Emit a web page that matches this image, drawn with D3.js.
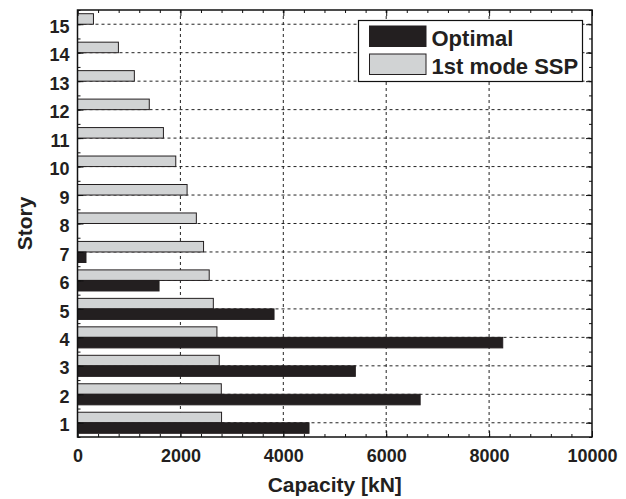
<!DOCTYPE html>
<html>
<head>
<meta charset="utf-8">
<script src="https://cdn.jsdelivr.net/npm/d3@7/dist/d3.min.js"></script>
<style>
  html, body { margin: 0; padding: 0; background: #fff; }
  svg { display: block; font-family: "Liberation Sans", Arial, Helvetica, sans-serif; font-weight: bold; }
</style>
</head>
<body>
<svg id="chart" width="626" height="499"></svg>
<script>
// Story numbers, bottom to top
const stories = [1, 2, 3, 4, 5, 6, 7, 8, 9, 10, 11, 12, 13, 14, 15];
// Story shear capacity [kN]
const optimal = [4500, 6660, 5400, 8265, 3820, 1585, 165, 0, 0, 0, 0, 0, 0, 0, 0];
const ssp1 = [2800, 2795, 2755, 2710, 2640, 2560, 2450, 2310, 2130, 1910, 1670, 1395, 1105, 795, 310];
const seriesNames = ["Optimal", "1st mode SSP"];
const xTicks = [0, 2000, 4000, 6000, 8000, 10000];
const xGridValues = [2000, 4000, 6000, 8000];

const margin = { left: 77.5, right: 34, top: 10, bottom: 62 };
const W = 626, H = 499;
const x0 = margin.left, x1 = W - margin.right, y0 = margin.top, y1 = H - margin.bottom;

const svg = d3.select("#chart");

const x = d3.scaleLinear().domain([0, 10000]).range([x0, x1]);
const y = d3.scaleLinear().domain([0.5, 15.5]).range([y1, y0]);
const step = y(1) - y(2);
const barH = step * 0.37;

const darkFill = "#231f20";
const greyFill = "#d1d3d4";

// dashed grid
const grid = svg.append("g").attr("stroke", "#222").attr("stroke-width", 1).attr("stroke-dasharray", "3,3");
grid.selectAll("line.h").data(stories).join("line")
  .attr("x1", x0).attr("x2", x1)
  .attr("y1", d => y(d)).attr("y2", d => y(d));
grid.selectAll("line.v").data(xGridValues).join("line")
  .attr("y1", y0).attr("y2", y1)
  .attr("x1", d => x(d)).attr("x2", d => x(d));

// bars: 1st mode SSP above the story line, Optimal below it
const rows = stories.map((s, i) => ({ s, opt: optimal[i], ssp: ssp1[i] }));
svg.append("g").selectAll("rect").data(rows.filter(d => d.ssp > 0)).join("rect")
  .attr("x", x(0)).attr("y", d => y(d.s) - barH)
  .attr("width", d => x(d.ssp) - x(0)).attr("height", barH)
  .attr("fill", greyFill).attr("stroke", darkFill).attr("stroke-width", 1);
svg.append("g").selectAll("rect").data(rows.filter(d => d.opt > 0)).join("rect")
  .attr("x", x(0)).attr("y", d => y(d.s))
  .attr("width", d => x(d.opt) - x(0)).attr("height", barH)
  .attr("fill", darkFill).attr("stroke", darkFill).attr("stroke-width", 1);

// axes with inward ticks
const minorX = d3.range(0, 10001, 400);
const minorY = d3.range(0.5, 15.6, 0.5);
function styleAxis(g) {
  g.select(".domain").remove();
  g.selectAll(".tick line").attr("stroke", "#111").attr("stroke-width", 1);
  g.selectAll(".tick text").attr("fill", "#231f20").style("font-size", "18px").style("font-weight", "bold")
    .style("font-family", "'Liberation Sans', Arial, sans-serif");
}
svg.append("g").attr("transform", `translate(0,${y1})`)
  .call(d3.axisBottom(x).tickValues(xTicks).tickFormat(d3.format("d")).tickSize(-6).tickPadding(12))
  .call(styleAxis);
svg.append("g").attr("transform", `translate(0,${y1})`)
  .call(d3.axisBottom(x).tickValues(minorX).tickFormat("").tickSize(-3)).call(styleAxis);
svg.append("g").attr("transform", `translate(0,${y0})`)
  .call(d3.axisTop(x).tickValues(xTicks).tickFormat("").tickSize(-6)).call(styleAxis);
svg.append("g").attr("transform", `translate(0,${y0})`)
  .call(d3.axisTop(x).tickValues(minorX).tickFormat("").tickSize(-3)).call(styleAxis);
svg.append("g").attr("transform", `translate(${x0},0)`)
  .call(d3.axisLeft(y).tickValues(stories).tickFormat(d3.format("d")).tickSize(-6).tickPadding(8))
  .call(styleAxis)
  .call(g => g.selectAll(".tick text").attr("dy", "0.45em"));
svg.append("g").attr("transform", `translate(${x0},0)`)
  .call(d3.axisLeft(y).tickValues(minorY).tickFormat("").tickSize(-3)).call(styleAxis);
svg.append("g").attr("transform", `translate(${x1},0)`)
  .call(d3.axisRight(y).tickValues(stories).tickFormat("").tickSize(-6)).call(styleAxis);
svg.append("g").attr("transform", `translate(${x1},0)`)
  .call(d3.axisRight(y).tickValues(minorY).tickFormat("").tickSize(-3)).call(styleAxis);

// frame
svg.append("rect").attr("x", x0).attr("y", y0).attr("width", x1 - x0).attr("height", y1 - y0)
  .attr("fill", "none").attr("stroke", "#111").attr("stroke-width", 1.5);

// axis titles
svg.append("text").attr("x", (x0 + x1) / 2).attr("y", 492).attr("text-anchor", "middle")
  .attr("fill", "#231f20").style("font-size", "21px").text("Capacity [kN]");
svg.append("text").attr("transform", `translate(32,${(y0 + y1) / 2}) rotate(-90)`).attr("text-anchor", "middle")
  .attr("fill", "#231f20").style("font-size", "21px").text("Story");

// legend
const lg = svg.append("g");
lg.append("rect").attr("x", 358.5).attr("y", 20.5).attr("width", 224).attr("height", 61)
  .attr("fill", "#fff").attr("stroke", "#111").attr("stroke-width", 1.2);
const legendItems = [
  { name: seriesNames[0], fill: darkFill, top: 26, base: 45.5 },
  { name: seriesNames[1], fill: greyFill, top: 54, base: 74 }
];
legendItems.forEach(it => {
  lg.append("rect").attr("x", 369.5).attr("y", it.top).attr("width", 56.5).attr("height", 20.5)
    .attr("fill", it.fill).attr("stroke", darkFill).attr("stroke-width", 1);
  lg.append("text").attr("x", 431.5).attr("y", it.base).attr("fill", "#231f20")
    .style("font-size", "22px").text(it.name);
});
</script>
</body>
</html>
